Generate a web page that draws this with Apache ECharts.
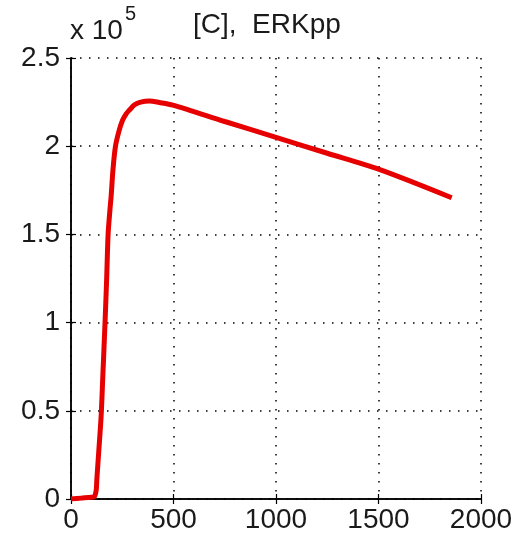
<!DOCTYPE html>
<html>
<head>
<meta charset="utf-8">
<script src="https://cdn.jsdelivr.net/npm/echarts@6/dist/echarts.min.js"></script>
<style>html,body{margin:0;padding:0;background:#fff;}#c{width:519px;height:534px;}</style>
</head>
<body>
<div id="c"></div>
<script>
// time values
var timeValues = [0, 50, 100, 114, 123, 126, 136, 147, 155, 166, 174, 181, 190, 196, 205, 217, 235, 252, 270, 285, 310, 340, 383, 430, 497, 750, 1000, 1250, 1500, 1857];
// ERKpp values in units of 1e5
var erkValues = [0, 0.005, 0.01, 0.013, 0.05, 0.11, 0.28, 0.47, 0.69, 1.0, 1.25, 1.5, 1.64, 1.72, 1.87, 2.0, 2.09, 2.148, 2.185, 2.205, 2.235, 2.25, 2.256, 2.248, 2.233, 2.14, 2.05, 1.96, 1.87, 1.708];
var xTicks = [0, 500, 1000, 1500, 2000];
var yTicks = [0, 0.5, 1, 1.5, 2, 2.5];
var titleText = '[C],  ERKpp';

var data = timeValues.map(function (t, i) { return [t, erkValues[i]]; });
var font = 'Liberation Sans';
var chart = echarts.init(document.getElementById('c'), null, {renderer: 'canvas'});
var lineBlack = {show: true, lineStyle: {color: '#000', width: 1.5}};
var tickIn = {show: true, inside: true, length: 5, lineStyle: {color: '#000', width: 1.2}};
var grid = {show: true, lineStyle: {color: '#000', type: [1.5, 7.5], width: 1.5}};
chart.setOption({
  animation: false,
  backgroundColor: '#fff',
  graphic: [{
    type: 'text', left: 193, top: 11,
    style: {text: titleText, font: '28px "Liberation Sans"', fill: '#1a1a1a'}
  }, {
    type: 'text', left: 70, top: 17,
    style: {text: 'x 10', font: '28px "Liberation Sans"', fill: '#1a1a1a'}
  }, {
    type: 'text', left: 125, top: 4,
    style: {text: '5', font: '20px "Liberation Sans"', fill: '#1a1a1a'}
  }],
  grid: {left: 71, right: 38, top: 58, bottom: 35, containLabel: false},
  xAxis: [{
    type: 'value', min: 0, max: 2000, interval: 500,
    axisLine: lineBlack, axisTick: tickIn, splitLine: grid,
    axisLabel: {color: '#1a1a1a', fontFamily: font, fontSize: 28, margin: 7,
      formatter: function (v) { return xTicks.indexOf(v) >= 0 ? String(v) : ''; }}
  }, {
    type: 'value', position: 'top', min: 0, max: 2000, interval: 500,
    axisLine: lineBlack, axisTick: tickIn, splitLine: {show: false}, axisLabel: {show: false}
  }],
  yAxis: [{
    type: 'value', min: 0, max: 2.5, interval: 0.5,
    axisLine: lineBlack, axisTick: tickIn, splitLine: grid,
    axisLabel: {color: '#1a1a1a', fontFamily: font, fontSize: 28, margin: 11,
      formatter: function (v) { return yTicks.indexOf(v) >= 0 ? String(v) : ''; }}
  }, {
    type: 'value', position: 'right', min: 0, max: 2.5, interval: 0.5,
    axisLine: lineBlack, axisTick: tickIn, splitLine: {show: false}, axisLabel: {show: false}
  }],
  series: [{
    type: 'line', data: data, showSymbol: false, smooth: 0.3,
    lineStyle: {color: '#e60000', width: 5}, z: 5
  }]
});
</script>
</body>
</html>
